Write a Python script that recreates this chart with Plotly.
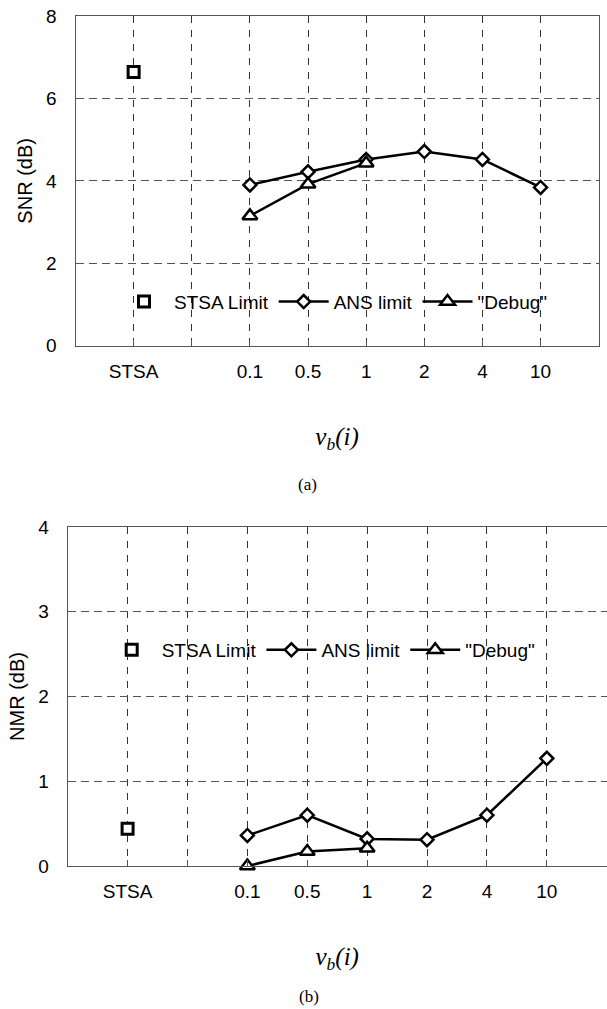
import plotly.graph_objects as go

W, H = 607, 1009

x_pos = [1, 3, 4, 5, 6, 7, 8]
x_labels = ["STSA", "0.1", "0.5", "1", "2", "4", "10"]
x_blank = [2]

# (a) SNR
snr_stsa_x = [1]
snr_stsa = [6.64]
snr_ans_x = [3, 4, 5, 6, 7, 8]
snr_ans = [3.90, 4.22, 4.52, 4.71, 4.52, 3.84]
snr_debug_x = [3, 4, 5]
snr_debug = [3.15, 3.92, 4.43]

# (b) NMR
nmr_stsa_x = [1]
nmr_stsa = [0.44]
nmr_ans_x = [3, 4, 5, 6, 7, 8]
nmr_ans = [0.36, 0.60, 0.32, 0.31, 0.60, 1.27]
nmr_debug_x = [3, 4, 5]
nmr_debug = [0.0, 0.17, 0.21]

FONT = "Liberation Sans, Arial, sans-serif"
SERIF = "Liberation Serif, Times New Roman, serif"

def px_x(p):
    return min(1.0, p / W)

def px_y(p):
    return 1 - p / H

fig = go.Figure()

def add_set(xa, ya, legend, sx, sy, ax, ay, dx, dy):
    fig.add_trace(go.Scatter(
        x=sx, y=sy, mode="markers", name="STSA Limit",
        marker=dict(symbol="square", size=11, color="white",
                    line=dict(color="black", width=3)),
        xaxis=xa, yaxis=ya, legend=legend, cliponaxis=False))
    fig.add_trace(go.Scatter(
        x=ax, y=ay, mode="lines+markers", name="ANS limit",
        line=dict(color="black", width=2.5),
        marker=dict(symbol="diamond", size=10, color="white",
                    line=dict(color="black", width=2.5)),
        xaxis=xa, yaxis=ya, legend=legend, cliponaxis=False))
    fig.add_trace(go.Scatter(
        x=dx, y=dy, mode="lines+markers", name="\"Debug\"",
        line=dict(color="black", width=2.5),
        marker=dict(symbol="triangle-up", size=13, color="white",
                    line=dict(color="black", width=2.5)),
        xaxis=xa, yaxis=ya, legend=legend, cliponaxis=False))

add_set("x", "y", "legend", snr_stsa_x, snr_stsa, snr_ans_x, snr_ans, snr_debug_x, snr_debug)
add_set("x2", "y2", "legend2", nmr_stsa_x, nmr_stsa, nmr_ans_x, nmr_ans, nmr_debug_x, nmr_debug)

xaxis_common = dict(
    range=[0, 9], tickmode="array", tickvals=x_pos, ticktext=x_labels,
    showgrid=True, gridcolor="#333", gridwidth=1, griddash="7px,7px",
    showline=True, linecolor="#555", linewidth=1, mirror=True,
    ticks="inside", ticklen=6, tickcolor="#555",
    minor=dict(tickmode="array", tickvals=x_blank, showgrid=True, gridcolor="#333",
               gridwidth=1, griddash="7px,7px", ticks="inside", ticklen=6, tickcolor="#555"),
    tickfont=dict(family=FONT, size=19, color="black"),
    ticklabelstandoff=8, ticklabeloverflow="allow", zeroline=False, automargin=False,
)
yaxis_common = dict(
    showgrid=True, gridcolor="#555", gridwidth=1, griddash="8px,5px",
    showline=True, linecolor="#555", linewidth=1, mirror=True,
    ticks="", tickfont=dict(family=FONT, size=19, color="black"),
    ticklabelstandoff=14, ticklabeloverflow="allow", zeroline=False, automargin=False,
)

xtitle = dict(text="<i>ν<sub>b</sub>(i)</i>", font=dict(family=SERIF, size=25, color="black"), standoff=46)

fig.update_layout(
    width=W, height=H,
    margin=dict(l=0, r=0, t=0, b=0, autoexpand=False),
    paper_bgcolor="white", plot_bgcolor="white",
    showlegend=True,
    xaxis=dict(domain=[px_x(75.5), px_x(598.7)], anchor="y", title=xtitle, **xaxis_common),
    yaxis=dict(domain=[px_y(345.7), px_y(16)], anchor="x", range=[0, 8], dtick=2,
               title=dict(text="SNR (dB)", font=dict(family=FONT, size=20, color="black"), standoff=8),
               **yaxis_common),
    xaxis2=dict(domain=[px_x(67.7), 0.9995], anchor="y2", title=xtitle, **xaxis_common),
    yaxis2=dict(domain=[px_y(866), px_y(527)], anchor="x2", range=[0, 4], dtick=1,
                title=dict(text="NMR (dB)", font=dict(family=FONT, size=20, color="black"), standoff=8),
                **yaxis_common),
    legend=dict(orientation="h", x=px_x(114), xanchor="left", y=px_y(301.7), yanchor="middle",
                bgcolor="rgba(0,0,0,0)", borderwidth=0, itemwidth=50,
                font=dict(family=FONT, size=19, color="black")),
    legend2=dict(orientation="h", x=px_x(101.7), xanchor="left", y=px_y(650), yanchor="middle",
                 bgcolor="rgba(0,0,0,0)", borderwidth=0, itemwidth=50,
                 font=dict(family=FONT, size=19, color="black")),
    annotations=[
        dict(text="(a)", x=px_x(307), y=px_y(484), xref="paper", yref="paper",
             xanchor="center", yanchor="middle",
             showarrow=False, font=dict(family=SERIF, size=17, color="black")),
        dict(text="(b)", x=px_x(309), y=px_y(996), xref="paper", yref="paper",
             xanchor="center", yanchor="middle",
             showarrow=False, font=dict(family=SERIF, size=17, color="black")),
    ],
)

fig.write_html("out.html", config={"displayModeBar": False},
               post_script="document.body.style.margin='0';")
